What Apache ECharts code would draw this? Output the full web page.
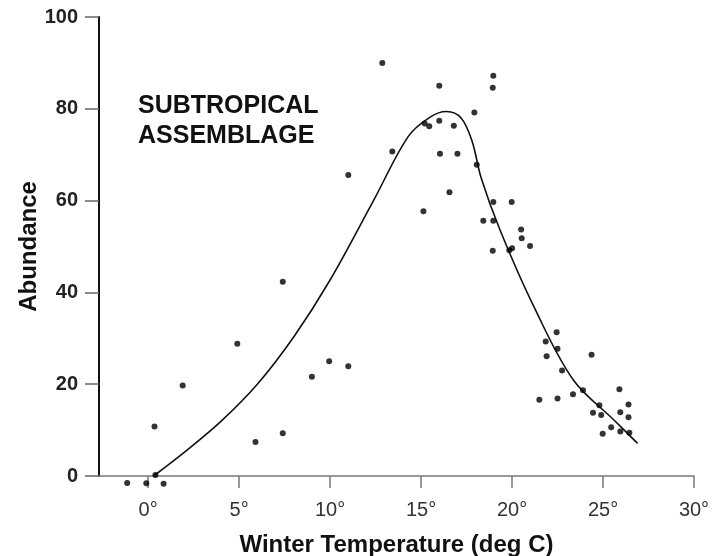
<!DOCTYPE html>
<html>
<head>
<meta charset="utf-8">
<script src="https://cdn.jsdelivr.net/npm/echarts@6/dist/echarts.min.js"></script>
<style>
html,body{margin:0;padding:0;background:#fff;}
#chart{width:723px;height:556px;}
</style>
</head>
<body>
<div id="chart"></div>
<script>
// Tick values (deg C) and labels
const xTicks = [0, 5, 10, 15, 20, 25, 30];
const yTicks = [0, 20, 40, 60, 80, 100];

// Observed samples: winter temperature (deg C) and abundance
const tempObs = [
  -1.15, -0.1, 0.85, 0.4, 0.35, 1.9, 4.9, 5.9, 7.4, 7.4,
  9.0, 9.95, 11.0, 11.0, 12.87, 13.42, 15.13, 15.2, 15.45, 16.0,
  16.0, 16.04, 16.56, 16.8, 17.0, 17.93, 18.06, 18.42, 18.97, 18.97,
  19.98, 18.94, 18.97, 18.94, 19.85, 20.0, 20.5, 20.53, 20.99, 22.45,
  21.85, 22.5, 21.9, 24.37, 22.75, 21.5, 22.5, 23.35, 23.9, 25.9,
  24.8, 24.45, 26.4, 25.95, 26.4, 25.45, 24.98, 25.95, 26.45, 24.9
];
const abundObs = [
  -1.5, -1.6, -1.7, 0.2, 10.8, 19.7, 28.8, 7.4, 9.3, 42.3,
  21.6, 25.0, 23.9, 65.6, 90.0, 70.7, 57.7, 76.8, 76.2, 77.4,
  85.0, 70.2, 61.8, 76.3, 70.2, 79.2, 67.8, 55.6, 55.6, 59.7,
  59.7, 84.6, 87.2, 49.1, 49.2, 49.6, 53.7, 51.8, 50.1, 31.3,
  29.3, 27.7, 26.1, 26.4, 23.0, 16.6, 16.9, 17.8, 18.7, 18.9,
  15.4, 13.8, 15.6, 13.9, 12.8, 10.6, 9.2, 9.7, 9.4, 13.3
];

// Fitted curve
const curveTemp = [
  0.3, 2.0, 4.0, 6.0, 8.0, 10.0, 12.4, 14.3, 15.5, 16.4,
  17.2, 17.8, 18.3, 19.34, 21.2, 23.37, 25.6, 26.9
];
const curveAbund = [
  0.0, 5.2, 11.9, 20.0, 30.3, 42.7, 60.1, 74.0, 78.2, 79.4,
  78.0, 73.0, 65.0, 53.6, 36.9, 20.9, 12.2, 7.1
];

const annotationLines = ['SUBTROPICAL', 'ASSEMBLAGE'];

const FONT = 'Liberation Sans, Arial, Helvetica, sans-serif';

const scatterData = tempObs.map((t, i) => [t, abundObs[i]]);
const curveData = curveTemp.map((t, i) => [t, curveAbund[i]]);

const chart = echarts.init(document.getElementById('chart'), null, {renderer: 'canvas'});
chart.setOption({
  backgroundColor: '#ffffff',
  animation: false,
  grid: {left: 99, right: 29, top: 17, bottom: 80, containLabel: false, outerBoundsMode: 'none'},
  xAxis: {
    type: 'value',
    min: -2.7,
    max: 30,
    name: 'Winter Temperature (deg C)',
    nameLocation: 'middle',
    nameGap: 57,
    nameMoveOverlap: false,
    nameTextStyle: {fontFamily: FONT, fontSize: 24, fontWeight: 'bold', color: '#111'},
    axisLine: {show: true, onZero: false, lineStyle: {color: '#777', width: 1.5}},
    axisTick: {show: true, inside: false, length: 12, customValues: xTicks, lineStyle: {color: '#777', width: 1.5}},
    axisLabel: {
      show: true, margin: 24, customValues: xTicks,
      fontFamily: FONT, fontSize: 20, color: '#333',
      formatter: v => v + '°'
    },
    splitLine: {show: false}
  },
  yAxis: {
    type: 'value',
    min: 0,
    max: 100,
    interval: 20,
    name: 'Abundance',
    nameLocation: 'middle',
    nameGap: 58,
    nameMoveOverlap: false,
    nameRotate: 90,
    nameTextStyle: {fontFamily: FONT, fontSize: 24, fontWeight: 'bold', color: '#111'},
    axisLine: {show: true, onZero: false, lineStyle: {color: '#111', width: 2}},
    axisTick: {show: true, inside: false, length: 14, lineStyle: {color: '#666', width: 1.5}},
    axisLabel: {
      show: true, margin: 21, customValues: yTicks,
      fontFamily: FONT, fontSize: 20, fontWeight: 'bold', color: '#222'
    },
    splitLine: {show: false}
  },
  graphic: annotationLines.map((txt, i) => ({
    type: 'text',
    left: 138,
    top: 94 + i * 30,
    style: {text: txt, font: 'bold 25px ' + FONT, fill: '#111'}
  })),
  series: [
    {
      type: 'line',
      data: curveData,
      smooth: 0.35,
      showSymbol: false,
      symbol: 'none',
      clip: false,
      lineStyle: {color: '#111', width: 1.6},
      z: 2
    },
    {
      type: 'scatter',
      data: scatterData,
      symbol: 'circle',
      symbolSize: 6,
      clip: false,
      itemStyle: {color: '#000'},
      z: 3
    }
  ]
});
</script>
</body>
</html>
